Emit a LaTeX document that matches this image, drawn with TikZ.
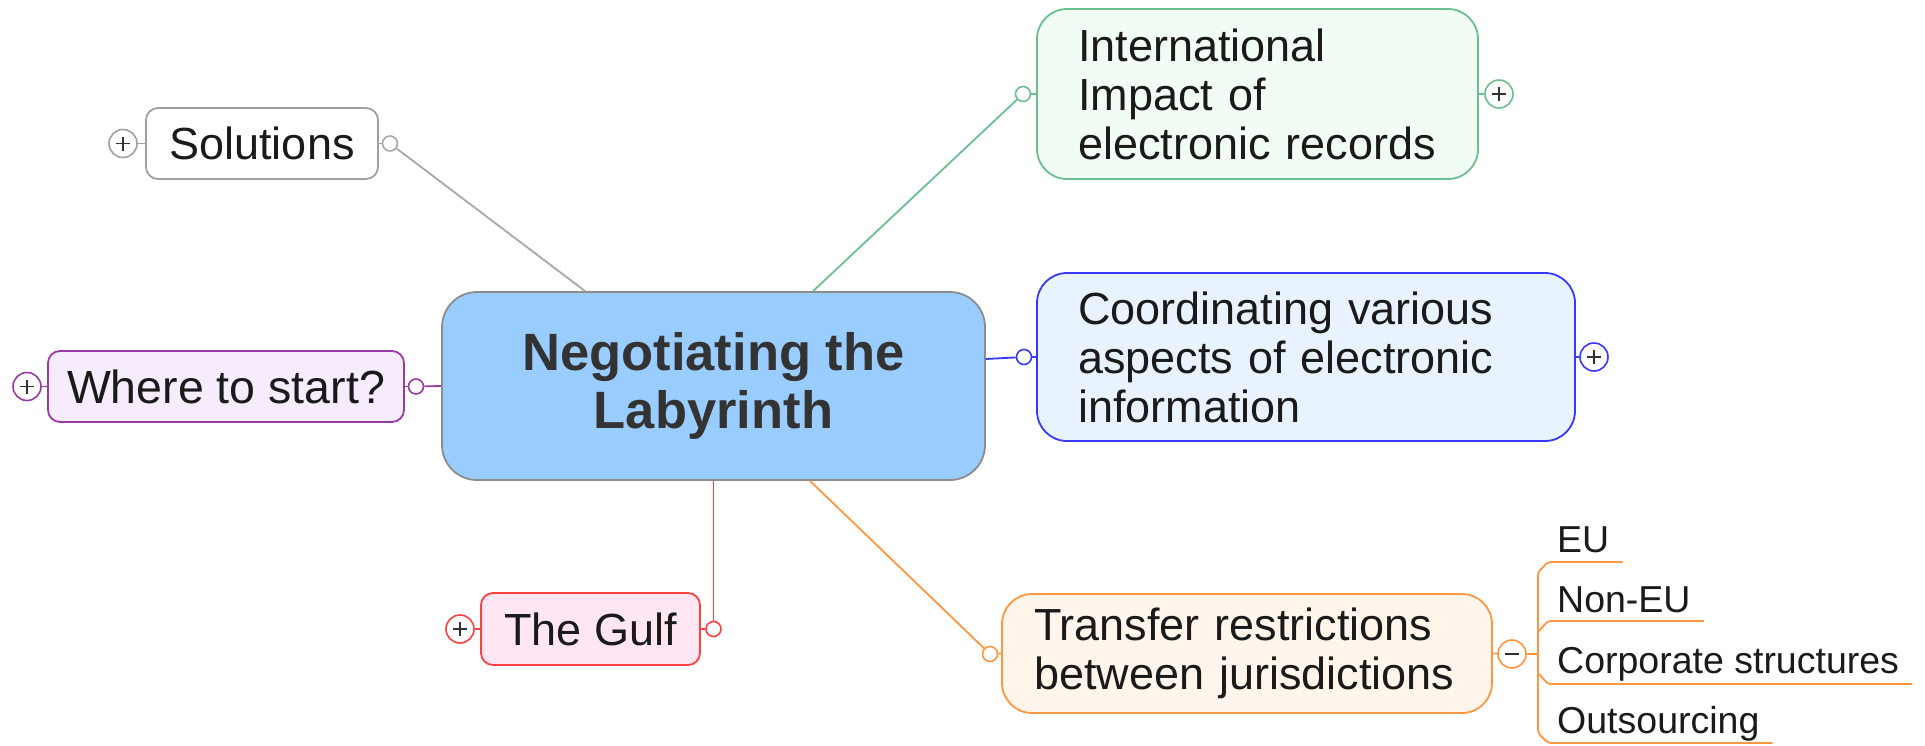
\documentclass[tikz,border=0pt]{standalone}
\usepackage{fontspec}
\setmainfont{Liberation Sans}
\definecolor{gryline}{HTML}{A8A8A8}
\definecolor{grybd}{HTML}{A0A0A0}
\definecolor{purp}{HTML}{9A3AA8}
\definecolor{purpfill}{HTML}{F6ECFD}
\definecolor{cenfill}{HTML}{99CCFF}
\definecolor{cenbd}{HTML}{8C8C8C}
\definecolor{grn}{HTML}{6CBF8F}
\definecolor{grnfill}{HTML}{F1FCF4}
\definecolor{blu}{HTML}{3838FF}
\definecolor{blufill}{HTML}{E8F3FF}
\definecolor{rd}{HTML}{FF4040}
\definecolor{rdfill}{HTML}{FFE6F2}
\definecolor{orng}{HTML}{FF9640}
\definecolor{orngfill}{HTML}{FFF5EB}
\definecolor{txt}{HTML}{1A1A1A}
\definecolor{centxt}{HTML}{333333}
\definecolor{sgn}{HTML}{333333}
\begin{document}
\begin{tikzpicture}[x=1pt,y=-1pt,
  topic/.style={rectangle, rounded corners=12pt, line width=1.8pt, inner sep=0pt,
    text=txt, font=\fontsize{45}{49}\selectfont},
  bigtopic/.style={rectangle, rounded corners=30pt, line width=1.8pt, inner ysep=0pt,
    text=txt, font=\fontsize{45}{49}\selectfont, align=left},
  central/.style={rectangle, rounded corners=35pt, line width=1.8pt, inner sep=0pt,
    text=centxt, font=\fontsize{52.5}{58}\selectfont\bfseries, align=center},
  subtopic/.style={inner sep=0pt, text=txt, font=\fontsize{37.5}{40}\selectfont, anchor=base west},
  conn/.style={circle, draw, fill=white, line width=1.6pt, minimum size=15pt, inner sep=0pt},
  fold/.style={circle, draw, fill=white, line width=1.6pt, minimum size=28pt, inner sep=0pt},
  link/.style={line width=1.8pt},
  sign/.style={line width=1.6pt, draw=sgn}
]
\useasboundingbox (0,0) rectangle (1925,745);

% central
\node[central, draw=cenbd, fill=cenfill, minimum width=543pt, minimum height=188pt] (cen) at (713.5,386) {Negotiating the\\Labyrinth};

% topics
\node[topic, draw=grybd, fill=white, minimum width=232pt, minimum height=71pt] (sol) at (262,143.5) {Solutions};
\node[topic, draw=purp, fill=purpfill, minimum width=356pt, minimum height=71pt, font=\fontsize{46.5}{50}\selectfont] (wher) at (226,386.5) {Where to start?};
\node[topic, draw=rd, fill=rdfill, minimum width=219pt, minimum height=72pt] (gulf) at (590.5,629) {The Gulf};
\node[bigtopic, draw=grn, fill=grnfill, text width=359pt, inner xsep=41pt, minimum height=170pt] (intl) at (1257.5,94) {International\\Impact of\\electronic records};
\node[bigtopic, draw=blu, fill=blufill, text width=456pt, inner xsep=41pt, minimum height=168pt] (coord) at (1306,357) {Coordinating various\\aspects of electronic\\information};
\node[bigtopic, draw=orng, fill=orngfill, text width=426pt, inner xsep=32pt, minimum height=119pt] (trans) at (1247,653.5) {Transfer restrictions\\between jurisdictions};

% connection circles
\node[conn, draw=gryline] (solc) at (390,143.5) {};
\node[conn, draw=purp] (wherc) at (416,386.5) {};
\node[conn, draw=rd] (gulfc) at (713.5,629) {};
\node[conn, draw=grn] (intlc) at (1023,94) {};
\node[conn, draw=blu] (coordc) at (1024,357) {};
\node[conn, draw=orng] (transc) at (990,654) {};

% fold circles
\node[fold, draw=grybd] (solp) at (123,143.5) {};
\node[fold, draw=purp] (wherp) at (27,386.5) {};
\node[fold, draw=rd] (gulfp) at (460,629) {};
\node[fold, draw=grn] (intlp) at (1499,94) {};
\node[fold, draw=blu] (coordp) at (1594,357) {};
\node[fold, draw=orng] (transm) at (1512,654) {};

\foreach \p in {solp,wherp,gulfp,intlp,coordp}{
  \draw[sign] ([xshift=-7pt]\p.center) -- ([xshift=7pt]\p.center)
              ([yshift=-7pt]\p.center) -- ([yshift=7pt]\p.center);
}
\draw[sign] ([xshift=-7pt]transm.center) -- ([xshift=7pt]transm.center);

% connectors from central
\draw[link, draw=gryline] ([xshift=144pt]cen.north west) -- (solc);
\draw[link, draw=grn] ([xshift=372pt]cen.north west) -- (intlc);
\draw[link, draw=blu] ([yshift=27pt]cen.east) -- (coordc);
\draw[link, draw=purp] (cen.west) -- (wherc);
\draw[link, draw=rd] (cen.south) -- (gulfc);
\draw[link, draw=orng] ([xshift=96.5pt]cen.south) -- (transc);

% short stubs
\draw[link, draw=gryline] (solc) -- (sol.east);
\draw[link, draw=grybd] (solp) -- (sol.west);
\draw[link, draw=purp] (wherc) -- (wher.east);
\draw[link, draw=purp] (wherp) -- (wher.west);
\draw[link, draw=rd] (gulfc) -- (gulf.east);
\draw[link, draw=rd] (gulfp) -- (gulf.west);
\draw[link, draw=grn] (intlc) -- (intl.west);
\draw[link, draw=grn] (intlp) -- (intl.east);
\draw[link, draw=blu] (coordc) -- (coord.west);
\draw[link, draw=blu] (coordp) -- (coord.east);
\draw[link, draw=orng] (transc) -- (trans.west);
\draw[link, draw=orng] (transm) -- (trans.east);

% subtopics
\node[subtopic] (eu) at (1557,552) {EU};
\node[subtopic] (noneu) at (1557,612) {Non-EU};
\node[subtopic] (corp) at (1557,673) {Corporate structures};
\node[subtopic] (outs) at (1557,733) {Outsourcing};

\coordinate (spine) at (1538,654);
\coordinate (eucor) at (1548,562);
\coordinate (sptop) at (1538,572);
\coordinate (spbot) at (1538,733);
\coordinate (outcor) at (1548,743);
\coordinate (nejoin) at (1538,632);
\coordinate (necor) at (1548,621);
\coordinate (cojoin) at (1538,673);
\coordinate (cocor) at (1548,684);

\draw[link, draw=orng] (transm) -- (spine);
\draw[link, draw=orng, rounded corners=3pt] ([xshift=13pt,yshift=-10pt]eu.base east) -- (eucor) -- (sptop) -- (spbot) -- (outcor) -- ([xshift=13pt,yshift=-10pt]outs.base east);
\draw[link, draw=orng, rounded corners=3pt] (nejoin) -- (necor) -- ([xshift=13pt,yshift=-9pt]noneu.base east);
\draw[link, draw=orng, rounded corners=3pt] (cojoin) -- (cocor) -- ([xshift=13pt,yshift=-11pt]corp.base east);
\end{tikzpicture}
\end{document}
